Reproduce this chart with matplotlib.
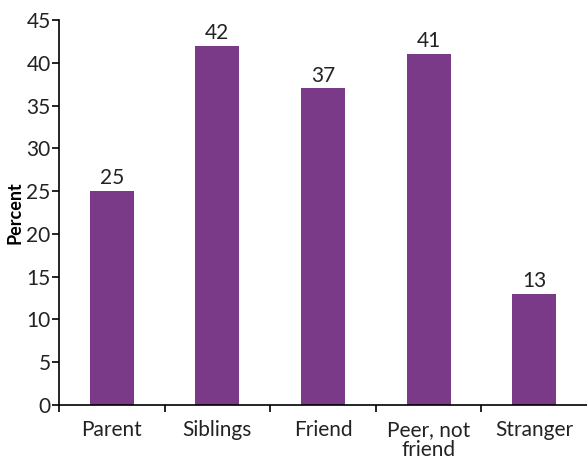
import numpy as np
import matplotlib
matplotlib.use("Agg")
import matplotlib.pyplot as plt

plt.rcParams['font.family'] = ['Lato', 'DejaVu Sans']

categories = ["Parent", "Siblings", "Friend", "Peer, not\nfriend", "Stranger"]
percent = [25, 42, 37, 41, 13]
bar_color = "#7b3a87"
text_color = "#222222"

fig = plt.figure(figsize=(5.87, 4.61), dpi=100)
ax = fig.add_axes([59 / 587, 1 - 405 / 461, 1 - 59 / 587, (405 - 20) / 461])

x = np.arange(len(categories))
bars = ax.bar(x, percent, width=0.415, color=bar_color, zorder=2)

for b, v in zip(bars, percent):
    ax.annotate(str(v), (b.get_x() + b.get_width() / 2, v), xytext=(0, 2),
                textcoords="offset points", ha="center", va="bottom",
                fontsize=15, color=text_color)

ax.set_xlim(-0.5, len(categories) - 0.5)
ax.set_ylim(0, 45)
ax.set_yticks(range(0, 46, 5))

# category labels sit between boundary ticks
ax.set_xticks(np.arange(-0.5, len(categories) - 0.5, 1))
ax.set_xticklabels([])
ax.set_xticks(x, minor=True)
ax.set_xticklabels(categories, minor=True, fontsize=15, color=text_color,
                   linespacing=1.0)
ax.tick_params(axis="x", which="minor", length=0, pad=11)
ax.tick_params(axis="x", which="major", length=5, width=1.2, direction="out")
ax.tick_params(axis="y", length=5, width=1.2, labelsize=15, pad=1,
               labelcolor=text_color)

for s in ["top", "right"]:
    ax.spines[s].set_visible(False)
for s in ["left", "bottom"]:
    ax.spines[s].set_linewidth(1.2)
    ax.spines[s].set_color("black")

ax.set_ylabel("Percent", fontsize=13, fontweight="bold", labelpad=2)

fig.savefig("out.png", dpi=100)
